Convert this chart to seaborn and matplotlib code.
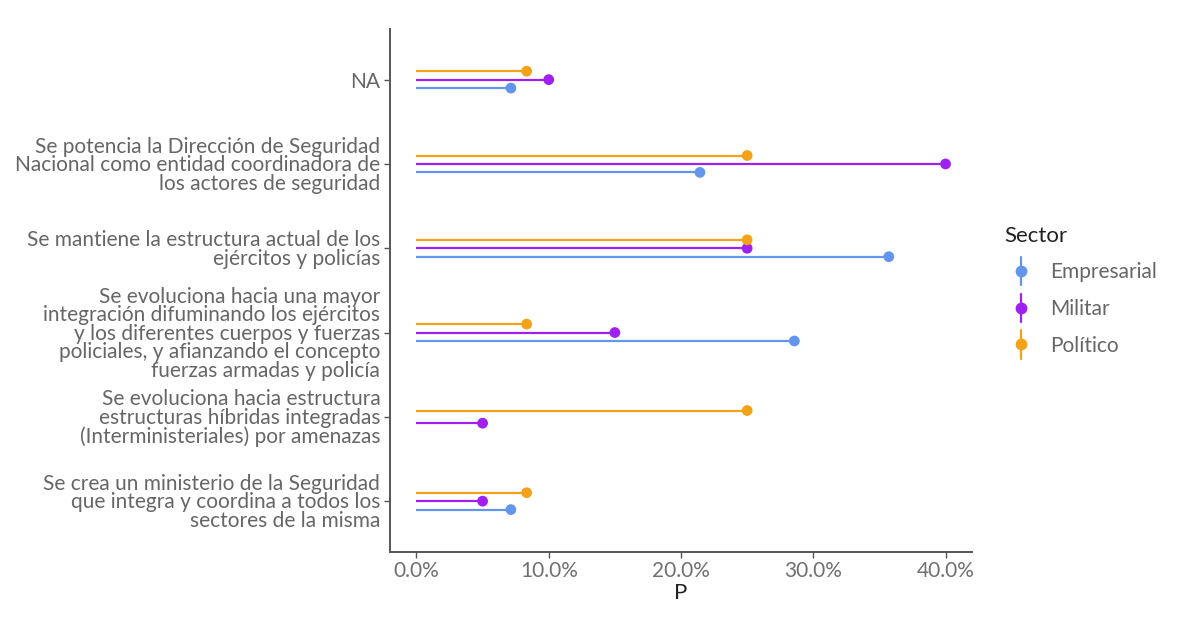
import numpy as np
import pandas as pd
import seaborn as sns
import matplotlib
matplotlib.use("Agg")
import matplotlib.pyplot as plt
from matplotlib.legend_handler import HandlerBase
from matplotlib.lines import Line2D
from matplotlib.ticker import FuncFormatter

categories = [
    "NA",
    "Se potencia la Dirección de Seguridad\nNacional como entidad coordinadora de\nlos actores de seguridad",
    "Se mantiene la estructura actual de los\nejércitos y policías",
    "Se evoluciona hacia una mayor\nintegración difuminando los ejércitos\ny los diferentes cuerpos y fuerzas\npoliciales, y afianzando el concepto\nfuerzas armadas y policía",
    "Se evoluciona hacia estructura\nestructuras híbridas integradas\n(Interministeriales) por amenazas",
    "Se crea un ministerio de la Seguridad\nque integra y coordina a todos los\nsectores de la misma",
]
sectors = ["Empresarial", "Militar", "Político"]
empresarial = [7.14, 21.43, 35.71, 28.57, np.nan, 7.14]
militar = [10.0, 40.0, 25.0, 15.0, 5.0, 5.0]
politico = [8.33, 25.0, 25.0, 8.33, 25.0, 8.33]
colors = {"Empresarial": "#6495ED", "Militar": "#A020F0", "Político": "#F5A21B"}

values = {"Empresarial": empresarial, "Militar": militar, "Político": politico}
rows = []
for i, cat in enumerate(categories):
    present = [s for s in sectors if not np.isnan(values[s][i])]
    n = len(present)
    width = 0.3
    for k, s in enumerate(present):
        off = (k - (n - 1) / 2) * width / n
        rows.append({"cat": cat, "idx": i, "Sector": s, "P": values[s][i], "y": i - off})
df = pd.DataFrame(rows)

sns.set_theme(style="white")
plt.rcParams["font.family"] = ["Lato", "DejaVu Sans"]

fig = plt.figure(figsize=(12, 6.32), dpi=100)
ax = fig.add_axes([0.325, 0.127, 0.485, 0.827])

for s in sectors:
    d = df[df["Sector"] == s]
    ax.hlines(d["y"], 0, d["P"], color=colors[s], lw=1.6, zorder=2)
sns.scatterplot(data=df, x="P", y="y", hue="Sector", palette=colors, s=60,
                edgecolor="none", legend=False, ax=ax, zorder=3)

ax.set_xlim(-2, 42)
ax.set_ylim(len(categories) - 0.4, -0.6)
ax.set_yticks(range(len(categories)))
ax.set_yticklabels(categories, fontsize=15, color="#666666", linespacing=0.9)
ax.set_xticks([0, 10, 20, 30, 40])
ax.xaxis.set_major_formatter(FuncFormatter(lambda v, p: f"{v:.1f}%"))
ax.tick_params(axis="x", labelsize=15, labelcolor="#707070", length=4, width=1, color="#555555", pad=3, bottom=True)
ax.tick_params(axis="y", length=4, width=1, color="#555555", pad=3, left=True)
ax.set_xlabel("P", fontsize=16, color="#222222", labelpad=1)
ax.set_ylabel("")
for sp in ["top", "right"]:
    ax.spines[sp].set_visible(False)
for sp in ["left", "bottom"]:
    ax.spines[sp].set_color("#555555")
    ax.spines[sp].set_linewidth(1.4)
ax.grid(False)


class VLineDot(HandlerBase):
    def create_artists(self, legend, orig, xdescent, ydescent, width, height, fontsize, trans):
        c = orig.get_color()
        cx = width / 2 - xdescent
        line = Line2D([cx, cx], [-ydescent - 5, height - ydescent + 5], color=c, lw=1.6, transform=trans)
        dot = Line2D([cx], [height / 2 - ydescent], marker="o", ms=7.5, color=c, lw=0, transform=trans)
        return [line, dot]


handles = [Line2D([], [], color=colors[s]) for s in sectors]
leg = fig.legend(handles, sectors, title="Sector", loc="center left",
                 bbox_to_anchor=(0.8217, 0.540), frameon=False, fontsize=15,
                 title_fontsize=16, handler_map={Line2D: VLineDot()},
                 handlelength=1.54, handletextpad=0.63, labelspacing=0.8)
leg._legend_box.align = "left"
for t in leg.get_texts():
    t.set_color("#666666")
leg.get_title().set_color("#222222")

fig.savefig("out.png", dpi=100, facecolor="white")
